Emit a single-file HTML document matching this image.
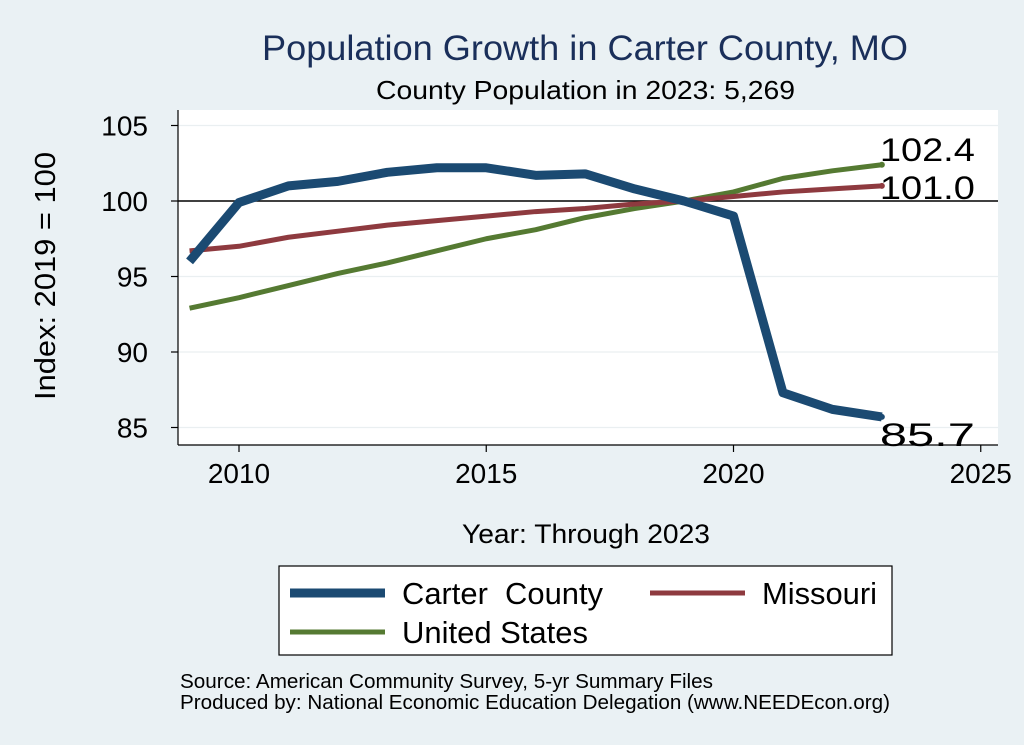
<!DOCTYPE html>
<html><head><meta charset="utf-8"><style>
body{margin:0;background:#eaf1f4;}
svg{display:block;font-family:"Liberation Sans",Arial,sans-serif;}
</style></head><body>
<svg id="chart" width="1024" height="745">
<rect x="0" y="0" width="1024" height="745" fill="#eaf1f4"/>
<text x="262" y="60" font-size="35" fill="#1a2f5a" textLength="646" lengthAdjust="spacingAndGlyphs">Population Growth in Carter County, MO</text>
<text x="376" y="99" font-size="26" fill="#000" textLength="419" lengthAdjust="spacingAndGlyphs">County Population in 2023: 5,269</text>
<rect x="178" y="110" width="820" height="335" fill="#fff"/>
<g id="grid"></g><g id="axes"></g><g id="series"></g><g id="labels"></g>
<text x="55" y="276" font-size="29" fill="#000" text-anchor="middle" textLength="248" lengthAdjust="spacingAndGlyphs" transform="rotate(-90 55 276)">Index: 2019 = 100</text>
<text x="462" y="543" font-size="27" fill="#000" textLength="248" lengthAdjust="spacingAndGlyphs">Year: Through 2023</text>
<g>
<rect x="279" y="566" width="613" height="89" fill="#fff" stroke="#000" stroke-width="1.2"/>
<line x1="290" y1="593" x2="385" y2="593" stroke="#1b4a72" stroke-width="9"/>
<text x="402" y="604" font-size="31" textLength="201" lengthAdjust="spacingAndGlyphs" xml:space="preserve">Carter  County</text>
<line x1="650" y1="593" x2="745" y2="593" stroke="#8e3a3f" stroke-width="5"/>
<text x="762" y="604" font-size="31" textLength="115" lengthAdjust="spacingAndGlyphs">Missouri</text>
<line x1="290" y1="632" x2="385" y2="632" stroke="#557a32" stroke-width="5"/>
<text x="402" y="643" font-size="31" textLength="186" lengthAdjust="spacingAndGlyphs">United States</text>
</g>
<text x="180" y="688" font-size="20" textLength="533" lengthAdjust="spacingAndGlyphs">Source: American Community Survey, 5-yr Summary Files</text>
<text x="180" y="709" font-size="20" textLength="710" lengthAdjust="spacingAndGlyphs">Produced by: National Economic Education Delegation (www.NEEDEcon.org)</text>
</svg>
<script>
const years=[2009,2010,2011,2012,2013,2014,2015,2016,2017,2018,2019,2020,2021,2022,2023];
const carter=[96.0,99.9,101.0,101.3,101.9,102.2,102.2,101.7,101.8,100.8,100.0,99.0,87.3,86.2,85.7];
const missouri=[96.7,97.0,97.6,98.0,98.4,98.7,99.0,99.3,99.5,99.8,100.0,100.3,100.6,100.8,101.0];
const us=[92.9,93.6,94.4,95.2,95.9,96.7,97.5,98.1,98.9,99.5,100.0,100.6,101.5,102.0,102.4];
const yTicks=[85,90,95,100,105];
const xTicks=[2010,2015,2020,2025];
const NS="http://www.w3.org/2000/svg";
const X=v=>239+(v-2010)*49.45;
const Y=v=>201-(v-100)*15.1;
function mk(t,a,p){const e=document.createElementNS(NS,t);for(const k in a)e.setAttribute(k,a[k]);p.appendChild(e);return e;}
const grid=document.getElementById('grid'),axes=document.getElementById('axes'),series=document.getElementById('series'),labels=document.getElementById('labels');
yTicks.forEach(v=>{
 const g=mk('line',{x1:178,x2:998,y1:Y(v),y2:Y(v),stroke:v===100?'#000':'#eaeff1','stroke-width':v===100?1.5:1.2},grid);
 
 
 const t=mk('line',{x1:171,x2:178,y1:Y(v),y2:Y(v),stroke:'#000','stroke-width':1.2},axes);
 
 
 const l=mk('text',{x:148,y:Y(v)+10,'font-size':28,'text-anchor':'end'},axes);l.textContent=v;
 
 
});
xTicks.forEach(v=>{
 const t=mk('line',{x1:X(v),x2:X(v),y1:445,y2:452,stroke:'#000','stroke-width':1.2},axes);
 
 
 const l=mk('text',{x:X(v),y:483,'font-size':28,'text-anchor':'middle'},axes);l.textContent=v;
 
 
});
const ya=mk('line',{x1:178,x2:178,y1:110,y2:445,stroke:'#000','stroke-width':1.2},axes);


const xa=mk('line',{x1:178,x2:998,y1:445,y2:445,stroke:'#000','stroke-width':1.2},axes);


function draw(vals,color,w,name){
 const d=vals.map((v,i)=>(i?'L':'M')+X(years[i])+' '+Y(v)).join(' ');
 const p=mk('path',{d:d,fill:'none',stroke:color,'stroke-width':w,'stroke-linejoin':'round'},series);
 
 
 const n=vals.length-1;
 const c=mk('circle',{cx:X(years[n]),cy:Y(vals[n]),r:3,fill:color},series);
 
 
}
draw(us,'#557a32',5,'us');
draw(missouri,'#8e3a3f',5,'missouri');
draw(carter,'#1b4a72',9,'carter');
[[us,'us',-4],[missouri,'missouri',13],[carter,'carter',29]].forEach(([vals,name,dy])=>{
 const n=vals.length-1;
 const t=mk('text',{x:X(years[n])-2,y:Y(vals[n])+dy,'font-size':32,textLength:95,lengthAdjust:'spacingAndGlyphs'},labels);
 t.textContent=vals[n].toFixed(1);
 
 
});
</script>
</body></html>
